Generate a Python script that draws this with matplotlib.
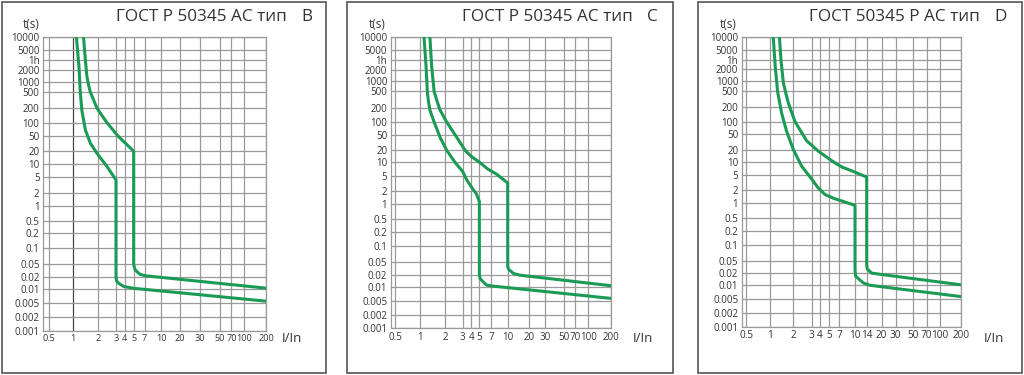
import numpy as np
import matplotlib
matplotlib.use('Agg')
import matplotlib.pyplot as plt
from matplotlib.patches import Rectangle
from matplotlib.ticker import NullLocator

plt.rcParams['font.family'] = ['Open Sans', 'DejaVu Sans']

# time axis ticks (seconds) and labels
t_ticks = [10000, 5000, 3600, 2000, 1000, 500, 200, 100, 50, 20, 10, 5, 2, 1,
           0.5, 0.2, 0.1, 0.05, 0.02, 0.01, 0.005, 0.002, 0.001]
t_labels = ['10000', '5000', '1h', '2000', '1000', '500', '200', '100', '50', '20', '10', '5', '2', '1',
            '0.5', '0.2', '0.1', '0.05', '0.02', '0.01', '0.005', '0.002', '0.001']
# where the printed chart puts each tick (fraction from the top)
t_frac = [0, 0.044, 0.077, 0.111, 0.151, 0.186, 0.242, 0.291, 0.335, 0.388, 0.430, 0.477,
          0.529, 0.573, 0.624, 0.668, 0.716, 0.772, 0.816, 0.857, 0.905, 0.954, 1.0]

# current multiple ticks; the printed grids are hand spaced, so keep their positions
i_ticks_bc = [0.5, 1, 2, 3, 4, 5, 7, 10, 20, 30, 50, 70, 100, 200]
i_ticks_d = [0.5, 1, 2, 3, 4, 5, 7, 10, 14, 20, 30, 50, 70, 100, 200]
b_frac = [0.0254, 0.1345, 0.2466, 0.3274, 0.3662, 0.4066, 0.4559, 0.5291, 0.6129, 0.7025, 0.7922, 0.8446, 0.8999, 1.0]
c_frac = [0.0197, 0.1333, 0.2485, 0.3273, 0.3667, 0.4030, 0.4576, 0.5318, 0.6303, 0.7015, 0.7879, 0.8394, 0.8985, 1.0]
d_frac = [0.0198, 0.1277, 0.2356, 0.3191, 0.3571, 0.3997, 0.4438, 0.5167, 0.5699, 0.6383, 0.7021, 0.7796, 0.8435, 0.9043, 1.0]

# type B
b_low_i = [1.10, 1.18, 1.225, 1.28, 1.41, 1.62, 1.95, 2.45, 3.0, 3.0, 3.05, 3.28, 3.86, 5.0, 200]
b_low_t = [10000, 2430, 480, 180, 68, 32, 17.7, 8.6, 4.3, 0.021, 0.016, 0.0139, 0.0116, 0.0104, 0.0055]
b_up_i = [1.34, 1.41, 1.47, 1.55, 1.62, 1.95, 2.45, 3.17, 5.0, 5.0, 5.1, 5.26, 6.13, 7.37, 200]
b_up_t = [10000, 3600, 1360, 750, 490, 200, 100, 50, 20, 0.05, 0.04, 0.0325, 0.0237, 0.0215, 0.0105]

# type C
c_low_i = [1.116, 1.18, 1.22, 1.26, 1.31, 1.47, 1.73, 2.06, 2.51, 3.0, 3.42, 4.0, 4.6, 5.0, 5.0, 5.1, 5.5, 6.1, 7.1, 200]
c_low_t = [10000, 2370, 500, 280, 179, 100, 43, 20, 10, 6.3, 4.0, 2.6, 1.74, 1.15, 0.021, 0.016, 0.0136, 0.011, 0.0104, 0.0056]
c_up_i = [1.31, 1.376, 1.47, 1.6, 1.73, 2.06, 2.51, 3.24, 4.0, 5.05, 6.3, 7.9, 10, 10, 10.1, 10.4, 12.0, 14.8, 200]
c_up_t = [10000, 2370, 500, 280, 179, 100, 50, 20, 14, 10, 7.2, 5.45, 3.3, 0.04, 0.033, 0.029, 0.022, 0.0195, 0.0106]

# type D
d_low_i = [1.11, 1.17, 1.26, 1.42, 1.64, 2.0, 2.4, 3.0, 3.7, 4.5, 5.8, 7.4, 10, 10, 10.05, 10.2, 12.7, 15.2, 200]
d_low_t = [10000, 2700, 480, 150, 59, 20, 8.0, 4.0, 2.4, 1.6, 1.3, 1.13, 0.9, 0.03, 0.022, 0.017, 0.0115, 0.01, 0.0057]
d_up_i = [1.33, 1.39, 1.49, 1.6, 1.73, 2.07, 2.68, 3.8, 4.8, 6.1, 7.5, 9.3, 14, 14, 14.05, 14.2, 15.8, 19.3, 200]
d_up_t = [10000, 3600, 900, 450, 254, 100, 34, 18.1, 12.5, 9.4, 7.6, 6.3, 4.5, 0.04, 0.033, 0.0275, 0.0205, 0.019, 0.0103]

GREEN = '#1a9b55'
GRID = '#9a9a9a'
TXT = '#333333'
I_MIN = 0.43


def make_scale(vals, fracs, lo=None):
    # map log10 of a value onto the printed tick positions
    v = list(vals)
    f = list(fracs)
    if lo is not None:
        v = [lo] + v
        f = [0.0] + f
    lv = np.log10(np.array(v, dtype=float))
    fp = np.array(f, dtype=float)
    order = np.argsort(lv)
    lv, fp = lv[order], fp[order]

    def fwd(x):
        x = np.clip(np.asarray(x, dtype=float), 1e-12, None)
        return np.interp(np.log10(x), lv, fp)

    def inv(u):
        return 10 ** np.interp(np.asarray(u, dtype=float), fp, lv)
    return fwd, inv


t_scale = make_scale(t_ticks, [1 - f for f in t_frac])

W, H = 1024, 375
fig = plt.figure(figsize=(W / 100, H / 100), dpi=100)


def px_axes(x0, x1, y0, y1):
    return fig.add_axes([x0 / W, 1 - y1 / H, (x1 - x0) / W, (y1 - y0) / H])


def panel(ax, lo_i, lo_t, up_i, up_t, iticks, ifrac, xfs, dark_one=False):
    ax.set_xscale('function', functions=make_scale(iticks, ifrac, lo=I_MIN))
    ax.set_yscale('function', functions=t_scale)
    ax.set_xlim(I_MIN, 200)
    ax.set_ylim(0.001, 10000)
    ax.set_xticks(iticks)
    ax.set_xticklabels([('%g' % v) for v in iticks], fontsize=xfs, color=TXT)
    ax.set_yticks(t_ticks)
    ax.set_yticklabels(t_labels, fontsize=7, color=TXT)
    ax.xaxis.set_minor_locator(NullLocator())
    ax.yaxis.set_minor_locator(NullLocator())
    ax.tick_params(length=0, pad=2.5)
    for v in iticks:
        ax.axvline(v, color='#444444' if (dark_one and v == 1) else GRID, lw=0.9, zorder=1)
    for v in t_ticks:
        ax.axhline(v, color=GRID, lw=0.9, zorder=1)
    for s in ax.spines.values():
        s.set_color(GRID)
        s.set_linewidth(0.9)
    ax.plot(lo_i, lo_t, color=GREEN, lw=2.2, zorder=3, solid_joinstyle='round')
    ax.plot(up_i, up_t, color=GREEN, lw=2.2, zorder=3, solid_joinstyle='round')


axb = px_axes(43, 266, 37.3, 331)
panel(axb, b_low_i, b_low_t, b_up_i, b_up_t, i_ticks_bc, b_frac, 6.6, dark_one=True)
axc = px_axes(390.7, 610.7, 37.3, 328.3)
panel(axc, c_low_i, c_low_t, c_up_i, c_up_t, i_ticks_bc, c_frac, 7.0)
axd = px_axes(741.7, 961, 37.3, 326.7)
panel(axd, d_low_i, d_low_t, d_up_i, d_up_t, i_ticks_d, d_frac, 7.2)

# frames round each chart
for x0, x1 in [(2, 326), (347, 673), (698, 1022)]:
    fig.patches.append(Rectangle((x0 / W, 1 - 373 / H), (x1 - x0) / W, 371 / H,
                                 transform=fig.transFigure, fill=False,
                                 edgecolor='#555555', lw=1.2))

# titles and axis names
titles = [('ГОСТ Р 50345 АС тип', 287, 'B', 312, 31, 292),
          ('ГОСТ Р 50345 АС тип', 633, 'C', 658, 377, 643),
          ('ГОСТ 50345 Р АС тип', 980, 'D', 1007, 728, 994)]
for txt, tx, letter, lx, tsx, ix in titles:
    fig.text(tx / W, 1 - 17 / H, txt, ha='right', va='center', fontsize=12.3, color=TXT)
    fig.text(lx / W, 1 - 17 / H, letter, ha='right', va='center', fontsize=12.3, color=TXT)
    fig.text(tsx / W, 1 - 25 / H, 't(s)', ha='center', va='center', fontsize=8.5, color=TXT)
    fig.text(ix / W, 1 - 338 / H, 'I/In', ha='center', va='center', fontsize=9.5, color=TXT)

fig.savefig('out.png', dpi=100)
